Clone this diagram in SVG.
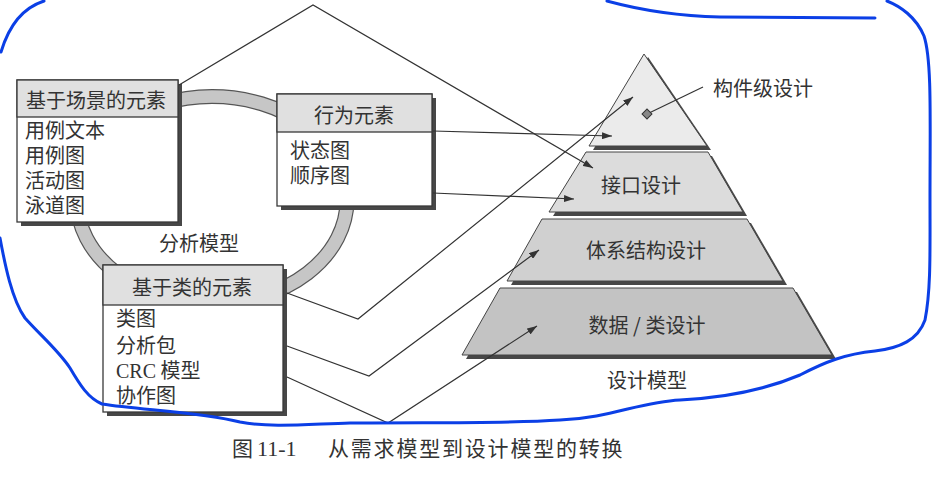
<svg xmlns="http://www.w3.org/2000/svg" width="933" height="492" viewBox="0 0 933 492">
  <defs>
    <marker id="arrow" markerUnits="userSpaceOnUse" markerWidth="10" markerHeight="7" refX="10" refY="3.5" orient="auto">
      <path d="M0,0 L10,3.5 L0,7 z" fill="#333"/>
    </marker>
    <style>
      .txt { font-family: "Noto Sans CJK SC", "Noto Sans", sans-serif; font-size: 20px; fill: #333; }
      .ser { font-family: "Liberation Serif", "Noto Sans CJK SC", serif; }
      .mid { text-anchor: middle; }
      .box { fill: #fff; stroke: #3a3a3a; stroke-width: 1.3; }
      .head { fill: #e0e0e0; stroke: #3a3a3a; stroke-width: 1.3; }
      .shadow { fill: #474747; }
      .layer { stroke: #444; stroke-width: 1; }
      .conn { fill: none; stroke: #333; stroke-width: 1.2; }
      .note { fill: none; stroke: #0b3fe6; stroke-width: 3; stroke-linecap: round; stroke-linejoin: round; }
    </style>
  </defs>

  <rect width="933" height="492" fill="#fff"/>

  <!-- analysis model ring -->
  <g id="ring">
    <ellipse cx="212" cy="200" rx="135" ry="103.5" fill="none" stroke="#555" stroke-width="15"/>
    <ellipse cx="212" cy="200" rx="135" ry="103.5" fill="none" stroke="#c6c6c6" stroke-width="12.6"/>
  </g>

  <!-- scenario-based elements -->
  <g id="scenario">
    <rect class="shadow" x="21" y="84" width="161" height="142"/>
    <rect class="box" x="17" y="80" width="161" height="142"/>
    <rect class="head" x="17" y="80" width="161" height="37"/>
    <text class="txt mid" x="96" y="108">基于场景的元素</text>
    <text class="txt" x="25" y="138">用例文本<tspan x="25" dy="25">用例图</tspan><tspan x="25" dy="25">活动图</tspan><tspan x="25" dy="25">泳道图</tspan></text>
  </g>

  <!-- behavioral elements -->
  <g id="behavior">
    <rect class="shadow" x="281" y="98" width="155" height="112"/>
    <rect class="box" x="277" y="94" width="155" height="112"/>
    <rect class="head" x="277" y="94" width="155" height="38"/>
    <text class="txt mid" x="354" y="123">行为元素</text>
    <text class="txt" x="290" y="158">状态图<tspan x="290" dy="25">顺序图</tspan></text>
  </g>

  <!-- class-based elements -->
  <g id="class-based">
    <rect class="shadow" x="107" y="269" width="180" height="147"/>
    <rect class="box" x="103" y="265" width="180" height="147"/>
    <rect class="head" x="103" y="265" width="180" height="40"/>
    <text class="txt mid" x="192" y="295">基于类的元素</text>
    <text class="txt" x="116" y="326">类图<tspan x="116" dy="27">分析包</tspan><tspan x="116" dy="25" class="ser">CRC</tspan><tspan> 模型</tspan><tspan x="116" dy="25">协作图</tspan></text>
  </g>

  <g id="analysis-label">
    <text class="txt" x="159" y="251">分析模型</text>
  </g>

  <!-- design model pyramid -->
  <g id="component-level">
    <polygon class="shadow" points="648,57 711,150 593,150"/>
    <polygon class="layer" fill="#ebebeb" points="644,54 707,146 589,146"/>
  </g>
  <g id="interface">
    <polygon class="shadow" points="590,156 712,156 747,216 553,216"/>
    <polygon class="layer" fill="#dcdcdc" points="586,152 708,152 743,212 549,212"/>
    <text class="txt mid" x="641" y="193">接口设计</text>
  </g>
  <g id="architecture">
    <polygon class="shadow" points="546,223 751,223 787,285 511,285"/>
    <polygon class="layer" fill="#d0d0d0" points="542,219 747,219 783,281 507,281"/>
    <text class="txt mid" x="646" y="258">体系结构设计</text>
  </g>
  <g id="data-class">
    <polygon class="shadow" points="504,292 797,292 836,359 466,359"/>
    <polygon class="layer" fill="#c3c3c3" points="500,288 793,288 832,355 462,355"/>
    <text class="txt mid" x="647" y="333">数据 / 类设计</text>
  </g>
  <g id="design-label">
    <text class="txt mid" x="647" y="388">设计模型</text>
  </g>
  <g id="component-label">
    <line x1="647" y1="114" x2="703" y2="87" stroke="#333" stroke-width="1.2"/>
    <rect x="643.5" y="110.5" width="7" height="7" fill="#888" stroke="#333" stroke-width="1" transform="rotate(45 647 114)"/>
    <text class="txt" x="713" y="96">构件级设计</text>
  </g>

  <!-- mappings from analysis elements to design layers -->
  <g id="connectors">
    <polyline class="conn" points="179,85 313,5 593,168" marker-end="url(#arrow)"/>
    <line class="conn" x1="433" y1="131" x2="612" y2="136" marker-end="url(#arrow)"/>
    <line class="conn" x1="433" y1="193" x2="574" y2="199" marker-end="url(#arrow)"/>
    <polyline class="conn" points="287,293 358,319 633,97" marker-end="url(#arrow)"/>
    <polyline class="conn" points="287,346 369,376 539,250" marker-end="url(#arrow)"/>
    <polyline class="conn" points="287,377 388,423 537,326" marker-end="url(#arrow)"/>
  </g>

  <!-- caption -->
  <g id="caption">
    <text class="txt" x="232" y="456" style="font-size:21px">图</text>
    <text class="txt ser" x="257" y="456" style="font-size:22px">11-1</text>
    <text class="txt" x="328" y="456" style="font-size:21px" letter-spacing="1.8">从需求模型到设计模型的转换</text>
  </g>

  <!-- hand-drawn blue outline -->
  <g id="outline">
    <path class="note" d="M44,1 C25,7 10,22 1,52"/>
    <path class="note" d="M607,1 C640,10 680,16 720,17 L875,18"/>
    <path class="note" d="M0,238 C5,265 12,300 25,318 C40,335 58,350 70,368 C80,385 88,398 102,404 C140,410 200,412 240,422 C270,428 310,424 350,423 C420,422 500,424 560,420 C610,418 640,402 680,400 C720,398 760,392 800,375 C825,362 845,354 875,351 C900,348 918,340 925,320 C931,290 930,250 930,200 C930,120 932,60 924,36 C916,17 900,6 887,1"/>
  </g>
</svg>
